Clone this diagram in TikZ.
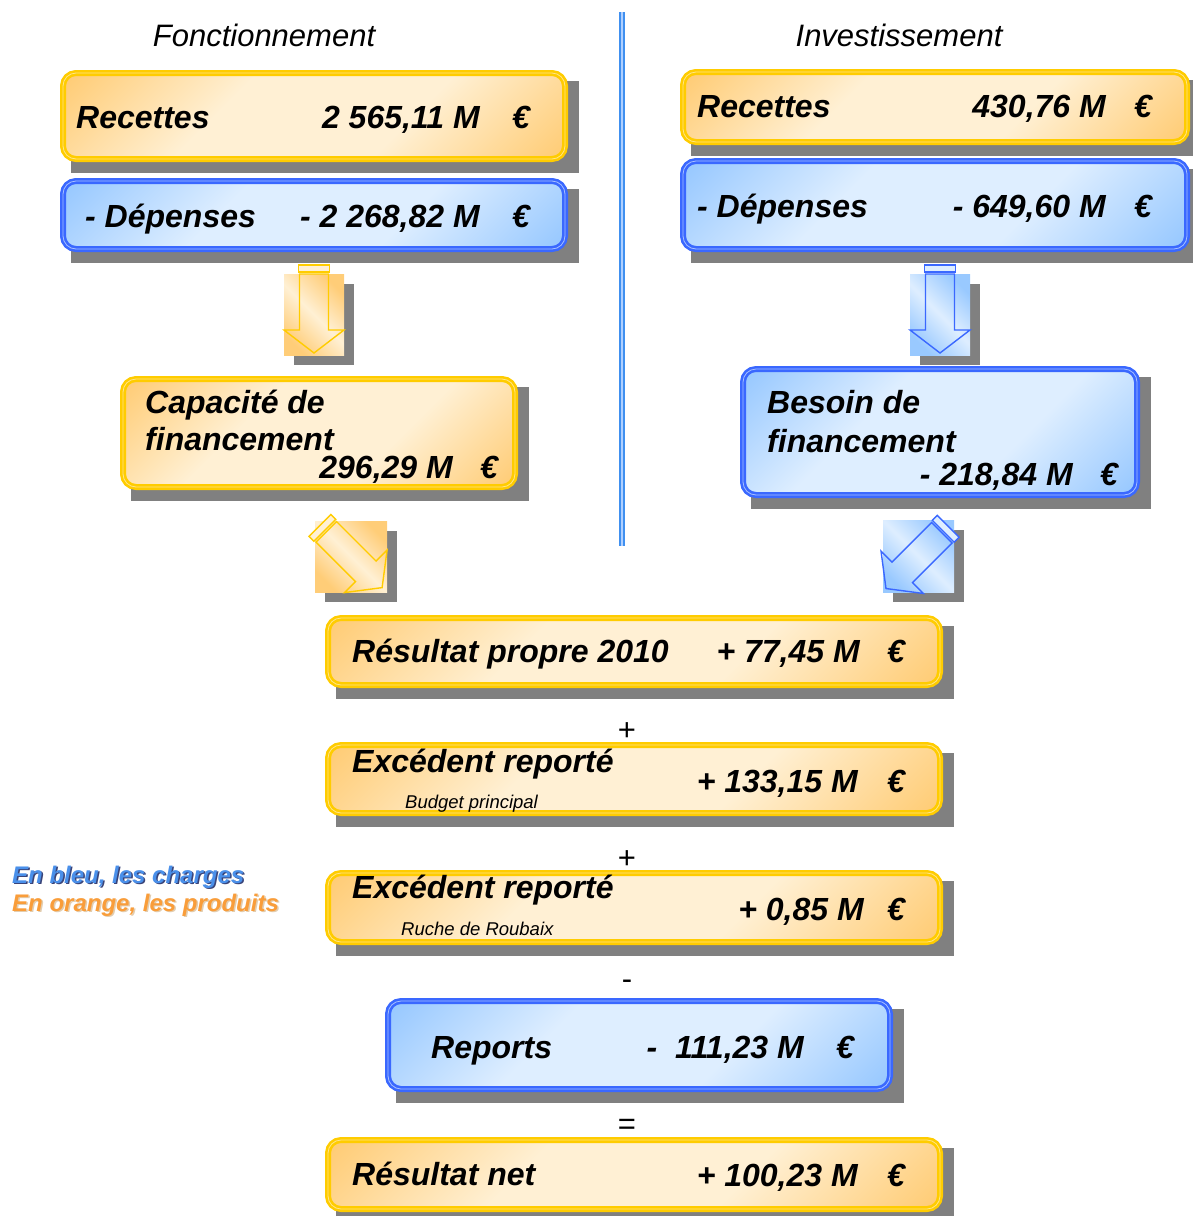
\documentclass[tikz,border=0pt]{standalone}
\usepackage{fontspec}
\setmainfont{Liberation Sans}
\usetikzlibrary{backgrounds}

\definecolor{orgdark}{HTML}{FFCD78}
\definecolor{orglight}{HTML}{FFF0D4}
\definecolor{orgline}{HTML}{FFCC00}
\definecolor{orginner}{HTML}{FFE58A}
\definecolor{bludark}{HTML}{99C9FF}
\definecolor{blulight}{HTML}{DEEEFF}
\definecolor{bluline}{HTML}{3A68FF}
\definecolor{bluinner}{HTML}{A8C0FF}
\definecolor{shadowgray}{HTML}{808080}
\definecolor{sepblue}{HTML}{4090F0}
\definecolor{seplight}{HTML}{B0D0FF}
\definecolor{legblue}{HTML}{4A90EA}
\definecolor{legblueshadow}{HTML}{3A4478}
\definecolor{legorange}{HTML}{F99D3A}
\definecolor{legorangeshadow}{HTML}{E2CDB0}

\pgfdeclareverticalshading{orgshade}{100bp}{color(0bp)=(orgdark); color(16bp)=(orgdark);
  color(38bp)=(orglight); color(62bp)=(orglight); color(84bp)=(orgdark); color(100bp)=(orgdark)}
\pgfdeclareverticalshading{blushade}{100bp}{color(0bp)=(bludark); color(16bp)=(bludark);
  color(38bp)=(blulight); color(62bp)=(blulight); color(84bp)=(bludark); color(100bp)=(bludark)}

\tikzset{
  box/.style={rectangle, rounded corners=13pt, inner sep=0pt, outer sep=0pt,
    line width=2.6pt, double distance=0.8pt, shade, shading angle=45},
  orgbox/.style={box, draw=orgline, double=orginner, shading=orgshade},
  blubox/.style={box, draw=bluline, double=bluinner, shading=blushade},
  orgsq/.style={rectangle, inner sep=0pt, outer sep=0pt, left color=orgdark,
    right color=orgdark, middle color=orglight, shading angle=-45},
  blusq/.style={rectangle, inner sep=0pt, outer sep=0pt, left color=bludark,
    right color=bludark, middle color=blulight, shading angle=-45},
  lbl/.style={font=\fontsize{32}{37}\selectfont\bfseries\itshape, inner sep=0pt, anchor=base west},
  val/.style={font=\fontsize{32}{37}\selectfont\bfseries\itshape, inner sep=0pt, anchor=base east},
  sub/.style={font=\fontsize{18.5}{22}\selectfont\itshape, inner sep=0pt, anchor=base west},
  op/.style={font=\fontsize{31}{36}\selectfont, inner sep=0pt, anchor=base},
  coltitle/.style={font=\fontsize{31}{36}\selectfont\itshape, inner sep=0pt, anchor=base},
  legtext/.style={font=\fontsize{24}{28}\selectfont\bfseries\itshape, inner sep=0pt, anchor=base west},
  sepline/.style={draw=sepblue, line width=2pt, double=seplight, double distance=1.6pt}
}

\begin{document}
\begin{tikzpicture}[x=1pt,y=-1pt]
  \useasboundingbox (0,0) rectangle (1192,1216);

  \node[coltitle] (titF) at (264,46) {Fonctionnement};
  \node[coltitle] (titI) at (899,46) {Investissement};
  \coordinate (sepT) at (622,12);
  \coordinate (sepB) at (622,546);
  \draw[sepline] (sepT) -- (sepB);

  \foreach \n/\x/\y/\w/\h/\col in {recF/314/116/508/92/org, depF/314/215/508/74/blu,
      capF/319/433/398/114/org, recI/935/107/510/76/org, depI/935/205/510/94/blu,
      besI/940/432/400/132/blu, resP/634/651.5/618/73/org, excB/634/779/618/74/org,
      excR/634/907.5/618/75/org, rep/639/1045/508/94/blu, resN/634/1174.5/618/75/org} {
    \node[\col box, minimum width=\w-6, minimum height=\h-6] (\n) at (\x,\y) {};
  }

  \foreach \n/\x/\y/\w/\h/\col in {arrF1/314/314.5/60/81/org, arrF2/351/556.5/72/71/org,
      arrI1/940/314.5/60/81/blu, arrI2/918.5/556/71/72/blu} {
    \node[\col sq, minimum width=\w, minimum height=\h] (\n) at (\x,\y) {};
  }

  \foreach \n/\r/\d/\col in {arrF1/0/-5.5/org, arrF2/45/0/org, arrI1/0/-5.5/blu, arrI2/-45/2/blu} {
    \begin{scope}[shift={(\n.center)}, rotate=\r, shift={(0,\d)}, line width=1.4pt]
      \draw[draw=\col line, fill=\col light] (-15.5,-44) rectangle (15.5,-37);
      \draw[draw=\col line] (-14.5,-35) -- (14.5,-35) -- (14.5,21) -- (30,21) -- (0,44)
        -- (-30,21) -- (-14.5,21) -- cycle;
    \end{scope}
  }

  \begin{scope}[on background layer]
    \foreach \n in {recF,depF,capF,recI,depI,besI,resP,excB,excR,rep,resN}
      \fill[shadowgray] ([shift={(8,8)}]\n.north west) rectangle ([shift={(14,14)}]\n.south east);
    \foreach \n in {arrF1,arrF2,arrI1,arrI2}
      \fill[shadowgray] ([shift={(10,10)}]\n.north west) rectangle ([shift={(10,10)}]\n.south east);
  \end{scope}

  \foreach \n/\x/\y/\t in {recF-l/76/128/Recettes, depF-l/85/227/{- Dépenses},
      capF-l1/145/413/{Capacité de}, capF-l2/145/450/financement,
      recI-l/697/117/Recettes, depI-l/697/217/{- Dépenses},
      besI-l1/767/413/{Besoin de}, besI-l2/767/452/financement,
      resP-l/352/662/{Résultat propre 2010}, excB-l/352/772/{Excédent reporté},
      excR-l/352/898/{Excédent reporté}, rep-l/431/1058/Reports, resN-l/352/1185/{Résultat net}} {
    \node[lbl] (\n) at (\x,\y) {\t};
  }
  \node[sub] (excB-s) at (405,808) {Budget principal};
  \node[sub] (excR-s) at (401,935) {Ruche de Roubaix};

  \foreach \n/\x/\e/\y/\t in {recF/480/530/128/{2 565,11 M}, depF/480/530/227/{- 2 268,82 M},
      capF/453/498/478/{296,29 M}, recI/1106/1152/117/{430,76 M}, depI/1106/1152/217/{- 649,60 M},
      besI/1073/1118/485/{- 218,84 M}, resP/860/905/662/{+ 77,45 M}, excB/858/905/792/{+ 133,15 M},
      excR/864/905/920/{+ 0,85 M}, rep/804/854/1058/{-\ \ 111,23 M}, resN/858/905/1186/{+ 100,23 M}} {
    \node[val] (\n-v) at (\x,\y) {\t};
    \node[val] (\n-e) at (\e,\y) {€};
  }

  \foreach \n/\y/\t in {opA/740/+, opB/868/+, opC/989/-, opD/1134/=}
    \node[op] (\n) at (627,\y) {\t};

  \node[legtext, text=legblueshadow] (legB-s) at (13.5,884.5) {En bleu, les charges};
  \node[legtext, text=legblue] (legB) at (12,883) {En bleu, les charges};
  \node[legtext, text=legorangeshadow] (legO-s) at (13.5,912.5) {En orange, les produits};
  \node[legtext, text=legorange] (legO) at (12,911) {En orange, les produits};
\end{tikzpicture}
\end{document}
